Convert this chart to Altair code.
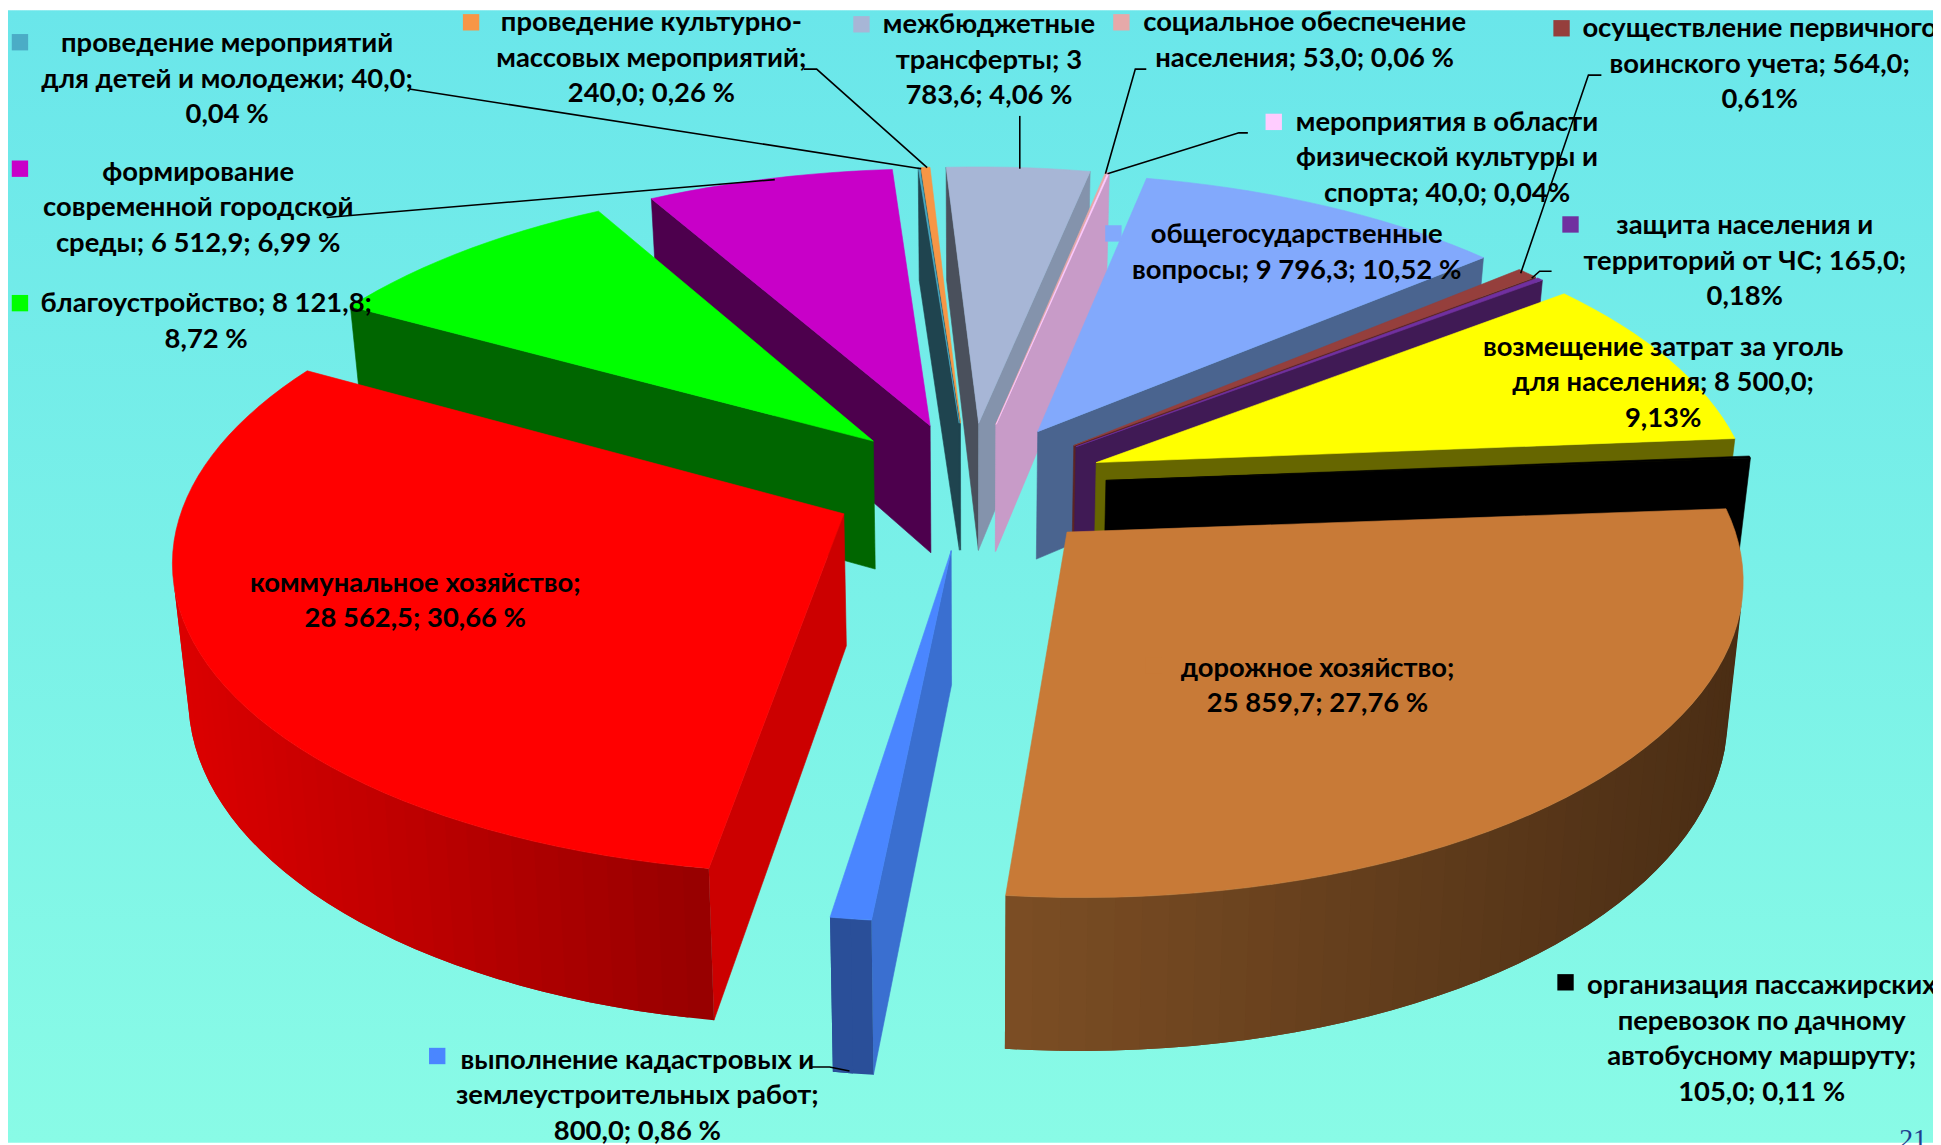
import math
import altair as alt
import pandas as pd

# ---- values, clockwise from the first slice ----
names = ["общегосударственные вопросы", "осуществление первичного воинского учета", "защита населения и территорий от ЧС",
         "возмещение затрат за уголь для населения", "организация пассажирских перевозок", "дорожное хозяйство",
         "выполнение кадастровых и землеустроительных работ", "коммунальное хозяйство", "благоустройство",
         "формирование современной городской среды", "проведение мероприятий для детей и молодежи",
         "проведение культурно-массовых мероприятий", "межбюджетные трансферты", "социальное обеспечение населения",
         "мероприятия в области физической культуры и спорта"]
values = [9796.3, 564.0, 165.0, 8500.0, 105.0, 25859.7, 800.0, 28562.5, 8121.8, 6512.9, 40.0, 240.0, 3783.6, 53.0, 40.0]

# ---- slice colours ----
tops = ["#82a9fc", "#953f3c", "#7030a0", "#ffff00", "#000000", "#c87a37", "#4a86ff", "#ff0000", "#00ff00", "#c800c8",
        "#4bacc6", "#f79646", "#a7b6d6", "#e6a9a9", "#ffccff"]
wall_start = ["#4a648f", "#5c2523", "#401a55", "#666600", "#000000", "#6b4420", "#3a6fd0", "#cc0000", "#006600", "#4d004d",
              "#1f444f", "#1f444f", "#4a505c", "#8a6060", "#c89bc8"]
wall_end = ["#4a648f", "#5c2523", "#401a55", "#666600", "#000000", "#6b4420", "#3a6fd0", "#cc0000", "#006600", "#4d004d",
            "#1f444f", "#7a4a20", "#8493ac", "#c89bc8", "#c89bc8"]
rim_left = ["#4a648f", "#5c2523", "#401a55", "#666600", "#000000", "#7c4e24", "#2a4f99", "#dc0000", "#006600", "#4d004d",
            "#1f444f", "#7a4a20", "#4a505c", "#8a6060", "#c89bc8"]
rim_right = ["#4a648f", "#5c2523", "#401a55", "#666600", "#000000", "#4a2d14", "#2a4f99", "#960000", "#006600", "#4d004d",
             "#1f444f", "#7a4a20", "#8493ac", "#8a6060", "#c89bc8"]

# ---- view of the tilted pie ----
W, H = 1933, 1137
OFF = 8
CX, CY = 973 - OFF, 485 - OFF
RX, RY = 658, 306
DEPTH = 131
PERSP = 0.13
EXPLODE = 0.21
START_DEG = 11.8
LEAN = 0.02


def project(wx, wy, down=0.0):
    w = 1 + PERSP * wy
    return [CX + RX * wx / w * (1 - LEAN * down / DEPTH), CY - RY * wy / w + down / w]


def hex_mix(c1, c2, t):
    a = [int(c1[i:i + 2], 16) for i in (1, 3, 5)]
    b = [int(c2[i:i + 2], 16) for i in (1, 3, 5)]
    return "#%02x%02x%02x" % tuple(round(a[i] + (b[i] - a[i]) * t) for i in range(3))


def area(poly):
    return sum(poly[i][0] * poly[(i + 1) % len(poly)][1] - poly[(i + 1) % len(poly)][0] * poly[i][1] for i in range(len(poly)))


def feature(poly, fill, sw=0.6):
    ring = [[round(p[0], 2), round(p[1], 2)] for p in poly]
    ring.append(ring[0])
    return {"type": "Feature", "geometry": {"type": "Polygon", "coordinates": [ring]},
            "properties": {"fill": fill, "sw": sw}}


total = sum(values)
slices = []
acc = 0.0
for i, v in enumerate(values):
    a0 = math.radians(START_DEG) + acc / total * 2 * math.pi
    acc += v
    a1 = math.radians(START_DEG) + acc / total * 2 * math.pi
    mid = (a0 + a1) / 2
    slices.append((math.cos(mid), i, a0, a1, mid))
slices.sort(key=lambda s: -s[0])

features = []
for _, i, a0, a1, mid in slices:
    ox, oy = EXPLODE * math.sin(mid), EXPLODE * math.cos(mid)
    n = max(2, int(math.degrees(a1 - a0) / 2))
    rim = [(ox + math.sin(a0 + (a1 - a0) * k / n), oy + math.cos(a0 + (a1 - a0) * k / n)) for k in range(n + 1)]
    apex = (ox, oy)
    path = [apex] + rim
    xs = [project(*p)[0] for p in rim]
    lo, hi = min(xs), max(xs)
    # radial walls
    for (p, q), col in (((apex, rim[0]), wall_start[i]), ((rim[-1], apex), wall_end[i])):
        quad = [project(*p), project(*q), project(*q, DEPTH), project(*p, DEPTH)]
        if area(quad) < 0:
            features.append(feature(quad, col))
    # outer wall: each step runs on over the next one so no seam shows
    for k in range(n):
        t = ((xs[k] + xs[k + 1]) / 2 - lo) / max(hi - lo, 1)
        col = hex_mix(rim_left[i], rim_right[i], t)
        p, q = rim[k], rim[k + 1]
        if area([project(*p), project(*q), project(*q, DEPTH), project(*p, DEPTH)]) < 0:
            e = rim[min(k + 2, n)]
            pts = [p, q, e]
            features.append(feature([project(*w) for w in pts] + [project(*w, DEPTH) for w in reversed(pts)], col, 0))
    features.append(feature([project(*p) for p in path], tops[i]))

# ---- labels: lines, colour of the key, and placement ----
label_lines = [
    ["проведение мероприятий", "для детей и молодежи; 40,0;", "0,04 %"],
    ["проведение культурно-", "массовых мероприятий;", "240,0; 0,26 %"],
    ["межбюджетные", "трансферты; 3", "783,6; 4,06 %"],
    ["социальное обеспечение", "населения; 53,0; 0,06 %"],
    ["осуществление первичного", "воинского учета; 564,0;", "0,61%"],
    ["мероприятия в области", "физической культуры и", "спорта; 40,0; 0,04%"],
    ["общегосударственные", "вопросы; 9 796,3; 10,52 %"],
    ["защита населения и", "территорий от ЧС; 165,0;", "0,18%"],
    ["возмещение затрат за уголь", "для населения; 8 500,0;", "9,13%"],
    ["организация пассажирских", "перевозок по дачному", "автобусному маршруту;", "105,0; 0,11 %"],
    ["дорожное хозяйство;", "25 859,7; 27,76 %"],
    ["выполнение кадастровых и", "землеустроительных работ;", "800,0; 0,86 %"],
    ["коммунальное хозяйство;", "28 562,5; 30,66 %"],
    ["благоустройство; 8 121,8;", "8,72 %"],
    ["формирование", "современной городской", "среды; 6 512,9; 6,99 %"],
]
label_x = [228, 654, 993, 1310, 1767, 1453, 1302, 1752, 1670, 1769, 1323, 640, 417, 207, 199]
label_y = [42, 21, 23, 21, 27, 121, 234, 225, 347, 988, 669, 1063, 584, 303, 171]
LINE = 35.6
key_x = [20, 473, 865, 1126, 1568, 1279, 1118, 1577, 1460, 1572, 1158, 439, 224, 20, 20]
key_y = [40, 20, 22, 20, 26, 120, 232, 223, 345, 984, 666, 1058, 582, 302, 167]
key_col = ["#4bacc6", "#f79646", "#a7b6d6", "#e6a9a9", "#953f3c", "#ffccff", "#82a9fc", "#7030a0", "#ffff00", "#000000",
           "#c87a37", "#4a86ff", "#ff0000", "#00ff00", "#c800c8"]

text_rows = []
for lines, lx, ly in zip(label_lines, label_x, label_y):
    for j, t in enumerate(lines):
        text_rows.append({"t": t, "x": lx - OFF, "y": ly - OFF + j * LINE})
key_rows = [{"x": x - OFF, "y": y - OFF, "c": c} for x, y, c in zip(key_x, key_y, key_col)]

leaders = [
    [(408, 86), (922, 166)],
    [(804, 66), (817, 66), (928, 165)],
    [(1021, 113), (1021, 166)],
    [(1148, 66), (1137, 66), (1107, 171)],
    [(1250, 130), (1241, 130), (1109, 171)],
    [(1605, 72), (1592, 72), (1524, 271)],
    [(1555, 269), (1543, 269), (1535, 276)],
    [(325, 215), (775, 177)],
    [(812, 1068), (830, 1068), (850, 1072)],
]
leader_rows = []
for n, pts in enumerate(leaders):
    for k, (x, y) in enumerate(pts):
        leader_rows.append({"id": n, "k": k, "x": x - OFF + 3, "y": y - OFF + 1})

bg = alt.Chart(pd.DataFrame({"a": [0]})).mark_rect(
    color=alt.LinearGradient(gradient="linear", x1=0, x2=0, y1=0, y2=1,
                             stops=[alt.GradientStop(color="#6ae6ea", offset=0),
                                    alt.GradientStop(color="#89fbe6", offset=1)])
).encode(x=alt.value(0), x2=alt.value(W), y=alt.value(0), y2=alt.value(H))

pie = alt.Chart(alt.Data(values=features)).mark_geoshape().encode(
    color=alt.Color("properties.fill:N", scale=None, legend=None),
    stroke=alt.Stroke("properties.fill:N", scale=None, legend=None),
    strokeWidth=alt.StrokeWidth("properties.sw:Q", scale=None, legend=None),
).project(type="identity", scale=1, translate=[0, 0])

X = lambda f: alt.X(f, scale=None, axis=None)
Y = lambda f: alt.Y(f, scale=None, axis=None)

lead = alt.Chart(pd.DataFrame(leader_rows)).mark_line(color="#000000", strokeWidth=1.6).encode(
    x=X("x:Q"), y=Y("y:Q"), detail="id:N", order="k:Q")

keys = alt.Chart(pd.DataFrame(key_rows)).mark_point(shape="square", filled=True, opacity=1, size=270).encode(
    x=X("x:Q"), y=Y("y:Q"), color=alt.Color("c:N", scale=None, legend=None))

texts = alt.Chart(pd.DataFrame(text_rows)).mark_text(
    font="Lato", fontWeight="bold", fontSize=27.5, color="#000000", align="center", baseline="middle"
).encode(x=X("x:Q"), y=Y("y:Q"), text="t:N")

page = alt.Chart(pd.DataFrame({"x": [1921 - OFF], "y": [1150 - OFF], "t": ["21"]})).mark_text(
    font="Liberation Serif", fontSize=28, color="#1f3f8f", align="center", baseline="alphabetic"
).encode(x=X("x:Q"), y=Y("y:Q"), text="t:N")

chart = alt.layer(bg, pie, lead, keys, texts, page).properties(
    width=W, height=H, padding=0, autosize=alt.AutoSizeParams(type="none")
).configure_view(stroke=None)

chart.save("out.html", embed_options={"renderer": "svg", "actions": False})
